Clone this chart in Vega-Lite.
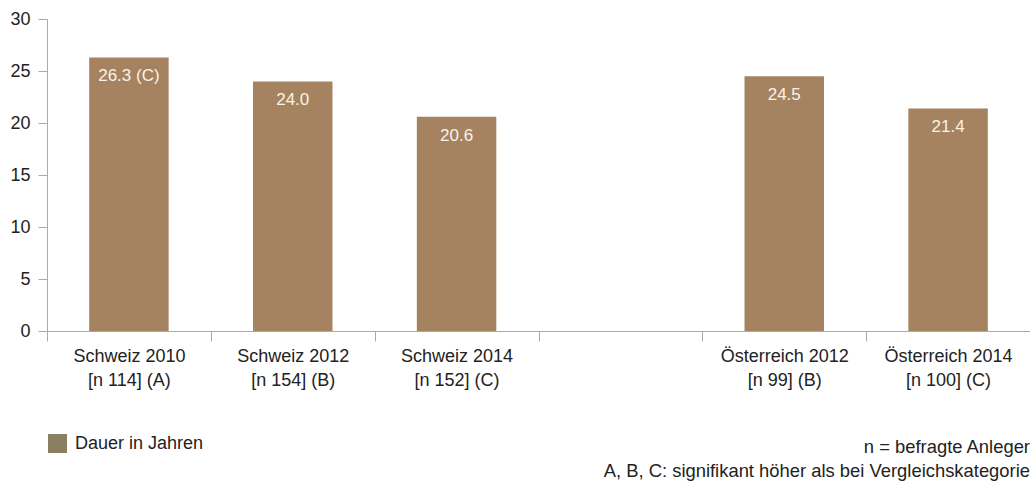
{
  "$schema": "https://vega.github.io/schema/vega-lite/v6.json",
  "width": 983,
  "height": 312,
  "autosize": "none",
  "padding": {"left": 47, "top": 19, "right": 0, "bottom": 150},
  "background": "white",
  "config": {"font": "Liberation Sans", "view": {"stroke": null}},
  "data": {
    "values": [
      {"cat": "Schweiz 2010|[n 114] (A)", "value": 26.3, "label": "26.3 (C)", "series": "Dauer in Jahren"},
      {"cat": "Schweiz 2012|[n 154] (B)", "value": 24.0, "label": "24.0", "series": "Dauer in Jahren"},
      {"cat": "Schweiz 2014|[n 152] (C)", "value": 20.6, "label": "20.6", "series": "Dauer in Jahren"},
      {"cat": "Österreich 2012|[n 99] (B)", "value": 24.5, "label": "24.5", "series": "Dauer in Jahren"},
      {"cat": "Österreich 2014|[n 100] (C)", "value": 21.4, "label": "21.4", "series": "Dauer in Jahren"}
    ]
  },
  "title": {
    "text": ["n = befragte Anleger", "A, B, C: signifikant höher als bei Vergleichskategorie"],
    "orient": "bottom",
    "anchor": "end",
    "frame": "group",
    "fontSize": 18.4,
    "fontWeight": "normal",
    "font": "Liberation Sans",
    "color": "#222222",
    "lineHeight": 24,
    "offset": -15
  },
  "encoding": {
    "x": {
      "field": "cat",
      "type": "nominal",
      "sort": null,
      "scale": {
        "domain": ["Schweiz 2010|[n 114] (A)", "Schweiz 2012|[n 154] (B)", "Schweiz 2014|[n 152] (C)", "gap", "Österreich 2012|[n 99] (B)", "Österreich 2014|[n 100] (C)"],
        "paddingInner": 0,
        "paddingOuter": 0
      },
      "axis": {
        "title": null,
        "tickBand": "extent",
        "tickSize": 10,
        "tickColor": "#aaaaaa",
        "domainColor": "#aaaaaa",
        "labelAngle": 0,
        "labelFontSize": 18,
        "labelColor": "#222222",
        "labelLineHeight": 24,
        "labelPadding": 6,
        "labelExpr": "(datum.value == null || datum.value == 'gap') ? '' : split(datum.value, '|')"
      }
    }
  },
  "layer": [
    {
      "mark": {"type": "bar", "width": {"band": 0.485}, "color": "#a58360"},
      "encoding": {
        "y": {
          "field": "value",
          "type": "quantitative",
          "scale": {"domain": [0, 30]},
          "axis": {
            "title": null,
            "values": [0, 5, 10, 15, 20, 25, 30],
            "grid": false,
            "tickSize": 9,
            "tickColor": "#aaaaaa",
            "domainColor": "#aaaaaa",
            "labelFontSize": 18,
            "labelColor": "#222222",
            "labelPadding": 8
          }
        }
      }
    },
    {
      "mark": {"type": "text", "dy": 24, "baseline": "alphabetic", "align": "center", "fontSize": 17, "color": "#f8f3ea"},
      "encoding": {
        "y": {"field": "value", "type": "quantitative"},
        "text": {"field": "label"}
      }
    },
    {
      "transform": [{"filter": "datum.value < 0"}],
      "mark": {"type": "square", "filled": true},
      "encoding": {
        "y": {"field": "value", "type": "quantitative"},
        "color": {
          "field": "series",
          "type": "nominal",
          "scale": {"domain": ["Dauer in Jahren"], "range": ["#8b7f63"]},
          "legend": {
            "orient": "none",
            "legendX": 1,
            "legendY": 415,
            "title": null,
            "symbolType": "square",
            "symbolSize": 361,
            "symbolOpacity": 1,
            "symbolStrokeWidth": 0,
            "labelFontSize": 18,
            "labelColor": "#222222",
            "labelOffset": 8,
            "padding": 0
          }
        }
      }
    }
  ]
}
